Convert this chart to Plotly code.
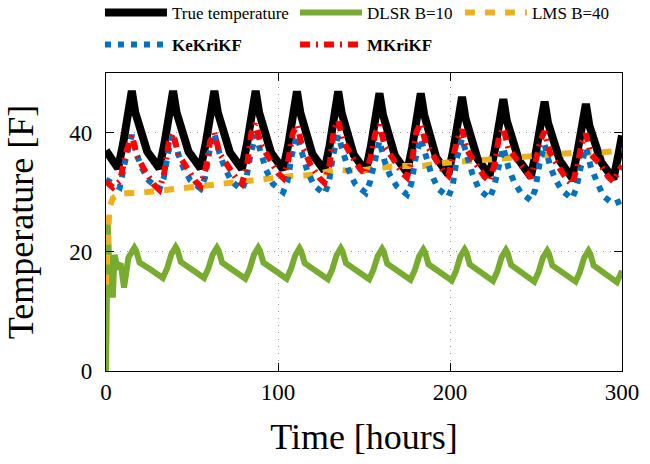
import plotly.graph_objects as go

# ---- data ----
true_t = [0, 3, 7,
          10, 13, 15, 17, 20, 24, 28, 31,
          34, 37, 39, 41, 44, 48, 52, 55,
          58, 61, 63, 65, 68, 72, 76, 79,
          82, 85, 87, 89, 92, 96, 100, 103,
          106, 109, 111, 113, 116, 120, 124, 127,
          130, 133, 135, 137, 140, 144, 148, 151,
          154, 157, 159, 161, 164, 168, 172, 175,
          178, 181, 183, 185, 188, 192, 196, 199,
          202, 205, 207, 209, 212, 216, 220, 223,
          226, 229, 231, 233, 236, 240, 244, 247,
          250, 253, 255, 257, 260, 264, 268, 271,
          274, 277, 279, 281, 284, 288, 292, 295,
          298, 300]
true_v = [37.0, 35.5, 34.0,
          38.2, 43.5, 47.0, 43.4, 40.5, 36.8, 35.2, 34.0,
          38.2, 43.5, 47.0, 43.4, 40.5, 36.8, 35.2, 34.0,
          38.2, 43.5, 47.0, 43.4, 40.5, 36.7, 35.1, 33.9,
          38.1, 43.5, 47.0, 43.4, 40.5, 36.6, 35.0, 33.8,
          38.0, 43.4, 46.9, 43.3, 40.4, 36.4, 34.8, 33.6,
          37.8, 43.4, 46.9, 43.3, 40.4, 36.3, 34.7, 33.5,
          37.7, 43.1, 46.6, 43.0, 40.1, 36.1, 34.5, 33.3,
          37.5, 43.1, 46.6, 43.0, 40.1, 35.8, 34.2, 33.0,
          37.2, 42.5, 46.0, 42.4, 39.5, 35.6, 34.0, 32.8,
          37.0, 42.1, 45.6, 42.0, 39.1, 35.4, 33.8, 32.6,
          36.8, 41.7, 45.2, 41.6, 38.7, 35.2, 33.6, 32.4,
          36.6, 41.3, 44.8, 41.2, 38.3, 35.0, 33.4, 32.2,
          36.4, 39.5]

dlsr_t = [0, 1, 2.5, 4, 5, 6.5, 8.5, 10.5, 13,
          16.5, 17.5, 19.5, 25.5, 33, 35.5, 38,
          40.5, 41.5, 43.5, 49.5, 57, 59.5, 62,
          64.5, 65.5, 67.5, 73.5, 81, 83.5, 86,
          88.5, 89.5, 91.5, 97.5, 105, 107.5, 110,
          112.5, 113.5, 115.5, 121.5, 129, 131.5, 134,
          136.5, 137.5, 139.5, 145.5, 153, 155.5, 158,
          160.5, 161.5, 163.5, 169.5, 177, 179.5, 182,
          184.5, 185.5, 187.5, 193.5, 201, 203.5, 206,
          208.5, 209.5, 211.5, 217.5, 225, 227.5, 230,
          232.5, 233.5, 235.5, 241.5, 249, 251.5, 254,
          256.5, 257.5, 259.5, 265.5, 273, 275.5, 278,
          280.5, 281.5, 283.5, 289.5, 297, 300]
dlsr_v = [0.0, 24.8, 12.8, 12.8, 19.5, 17.5, 18.0, 14.0, 19.0,
          20.7, 20.2, 18.2, 17.1, 15.6, 17.2, 19.6,
          20.8, 20.3, 18.3, 17.1, 15.6, 17.2, 19.5,
          20.7, 20.2, 18.2, 17.0, 15.5, 17.1, 19.5,
          20.7, 20.2, 18.2, 17.0, 15.5, 17.1, 19.4,
          20.6, 20.1, 18.1, 16.9, 15.4, 17.0, 19.4,
          20.6, 20.1, 18.1, 16.9, 15.4, 17.0, 19.3,
          20.5, 20.0, 18.0, 16.8, 15.3, 16.9, 19.2,
          20.4, 19.9, 17.9, 16.7, 15.2, 16.8, 19.2,
          20.4, 19.9, 17.9, 16.6, 15.1, 16.7, 19.1,
          20.3, 19.8, 17.8, 16.5, 15.0, 16.6, 19.0,
          20.2, 19.7, 17.7, 16.5, 15.0, 16.6, 19.0,
          20.2, 19.7, 17.7, 16.4, 14.9, 16.8]

lms_t = [0, 2, 4, 8, 20, 32, 45, 58, 70, 83, 95, 108, 121, 134, 145, 159,
         172, 184, 196, 210, 221, 235, 246, 260, 272, 285, 297, 300]
lms_v = [14.5, 27.5, 29.0, 29.8, 29.9, 30.3, 30.7, 31.1, 31.5, 32.1, 32.4, 32.7,
         32.9, 33.8, 33.5, 34.1, 34.4, 34.4, 34.9, 35.2, 35.5, 35.7, 35.9, 36.3,
         36.6, 36.6, 36.9, 37.0]

ke_t = [0, 4, 8, 11, 13,
        15, 18, 21, 25, 31, 33.5, 36,
        39, 42, 45, 49, 55, 57.5, 60,
        63, 66, 69, 73, 79, 81.5, 84,
        87, 90, 93, 97, 103, 105.5, 108,
        111, 114, 117, 121, 127, 129.5, 132,
        135, 138, 141, 145, 151, 153.5, 156,
        159, 162, 165, 169, 175, 177.5, 180,
        183, 186, 189, 193, 199, 201.5, 204,
        207, 210, 213, 217, 223, 225.5, 228,
        231, 234, 237, 241, 247, 249.5, 252,
        255, 258, 261, 265, 271, 273.5, 276,
        279, 282, 285, 289, 295, 300]
ke_v = [32.1, 31.5, 30.8, 35.0, 37.8,
        39.6, 36.2, 34.0, 31.9, 30.5, 32.3, 36.5,
        39.8, 36.4, 34.1, 32.0, 30.6, 32.4, 36.6,
        39.9, 36.5, 34.1, 31.8, 30.4, 32.2, 36.3,
        39.6, 36.2, 33.8, 31.4, 30.0, 31.8, 36.2,
        39.5, 36.1, 33.6, 31.1, 29.7, 31.5, 36.2,
        39.5, 36.1, 33.7, 31.3, 29.9, 31.7, 35.3,
        38.6, 35.2, 32.9, 31.0, 29.6, 31.4, 35.7,
        39.0, 35.6, 33.2, 30.6, 29.2, 31.0, 35.7,
        39.0, 35.6, 33.1, 30.4, 29.0, 30.8, 34.2,
        37.5, 34.1, 31.9, 30.0, 28.6, 30.4, 34.7,
        38.0, 34.6, 32.3, 30.3, 28.9, 30.7, 34.2,
        37.5, 34.1, 31.8, 29.4, 28.0, 28.6]

mk_t = [0, 4, 8, 12,
        15, 18, 23, 28, 31, 34, 36.5,
        39, 42, 47, 52, 55, 58, 60.5,
        63, 66, 71, 76, 79, 82, 84.5,
        87, 90, 95, 100, 103, 106, 108.5,
        111, 114, 119, 124, 127, 130, 132.5,
        135, 138, 143, 148, 151, 154, 156.5,
        159, 162, 167, 172, 175, 178, 180.5,
        183, 186, 191, 196, 199, 202, 204.5,
        207, 210, 215, 220, 223, 226, 228.5,
        231, 234, 239, 244, 247, 250, 252.5,
        255, 258, 263, 268, 271, 274, 276.5,
        279, 282, 287, 292, 295, 298, 300]
mk_v = [31.8, 30.8, 31.8, 37.0,
        39.6, 36.1, 33.4, 31.2, 30.4, 33.4, 38.4,
        39.9, 36.4, 34.0, 31.8, 31.0, 34.0, 38.5,
        40.0, 36.5, 34.4, 32.2, 31.4, 34.4, 40.0,
        41.5, 38.0, 35.4, 33.2, 32.4, 35.4, 39.8,
        41.3, 37.8, 34.6, 32.4, 31.6, 34.6, 40.5,
        42.0, 38.5, 36.0, 33.8, 33.0, 36.0, 39.8,
        41.3, 37.8, 35.5, 33.3, 32.5, 35.5, 40.1,
        41.6, 38.1, 35.8, 33.6, 32.8, 35.8, 39.0,
        40.5, 37.0, 34.8, 32.6, 31.8, 34.8, 39.3,
        40.8, 37.3, 35.4, 33.2, 32.4, 35.4, 38.7,
        40.2, 36.7, 34.3, 32.1, 31.3, 34.3, 38.3,
        39.8, 36.3, 34.8, 32.6, 31.8, 33.5, 34.5]

x_ticks = [0, 100, 200, 300]
y_ticks = [0, 20, 40]

FONT = "Liberation Serif"

fig = go.Figure()
fig.add_trace(go.Scatter(x=true_t, y=true_v, mode="lines", name="True temperature",
                         line=dict(color="#000000", width=8), legend="legend", legendwidth=118))
fig.add_trace(go.Scatter(x=dlsr_t, y=dlsr_v, mode="lines", name="DLSR B=10",
                         line=dict(color="#77AC30", width=6), legend="legend", legendwidth=88))
fig.add_trace(go.Scatter(x=lms_t, y=lms_v, mode="lines", name="LMS B=40",
                         line=dict(color="#EDB120", width=6, dash="10px,10px"), legend="legend", legendwidth=80))
fig.add_trace(go.Scatter(x=ke_t, y=ke_v, mode="lines", name="<b>KeKriKF</b>",
                         line=dict(color="#0072BD", width=6, dash="6px,7px"), legend="legend2", legendwidth=118))
fig.add_trace(go.Scatter(x=mk_t, y=mk_v, mode="lines", name="<b>MKriKF</b>",
                         line=dict(color="#FF0000", width=6, dash="10px,6px,2px,6px"), legend="legend2", legendwidth=88))

leg_common = dict(orientation="h", xanchor="left", yanchor="middle", itemwidth=62,
                  xref="container", yref="container",
                  font=dict(family=FONT, size=17, color="black"),
                  bgcolor="rgba(0,0,0,0)", borderwidth=0)

fig.update_layout(
    width=650, height=464,
    margin=dict(l=106, r=28, t=73, b=93, autoexpand=False),
    plot_bgcolor="white", paper_bgcolor="white",
    font=dict(family=FONT, color="black"),
    showlegend=True,
    legend=dict(x=0.1538, y=0.972, **leg_common),
    legend2=dict(x=0.1538, y=0.903, **leg_common),
)
fig.update_xaxes(
    range=[0, 300], tickvals=x_ticks, ticktext=[str(v) for v in x_ticks],
    ticks="inside", ticklen=8, tickcolor="black", tickwidth=1,
    showline=True, linecolor="black", linewidth=1.2, mirror="ticks",
    showgrid=True, gridcolor="#9a9a9a", gridwidth=1, griddash="1px,6px",
    zeroline=False,
    tickfont=dict(family=FONT, size=23, color="black"),
    title=dict(text="Time [hours]", font=dict(family=FONT, size=36, color="black"), standoff=20),
)
fig.update_yaxes(
    range=[0, 50], tickvals=y_ticks, ticktext=[str(v) for v in y_ticks],
    ticks="inside", ticklen=8, tickcolor="black", tickwidth=1,
    showline=True, linecolor="black", linewidth=1.2, mirror="ticks",
    showgrid=True, gridcolor="#9a9a9a", gridwidth=1, griddash="1px,6px",
    zeroline=False,
    tickfont=dict(family=FONT, size=23, color="black"),
    ticklabelstandoff=8,
    title=dict(text="Temperature [F]", font=dict(family=FONT, size=36, color="black"), standoff=24),
)

fig.write_html("out.html")
